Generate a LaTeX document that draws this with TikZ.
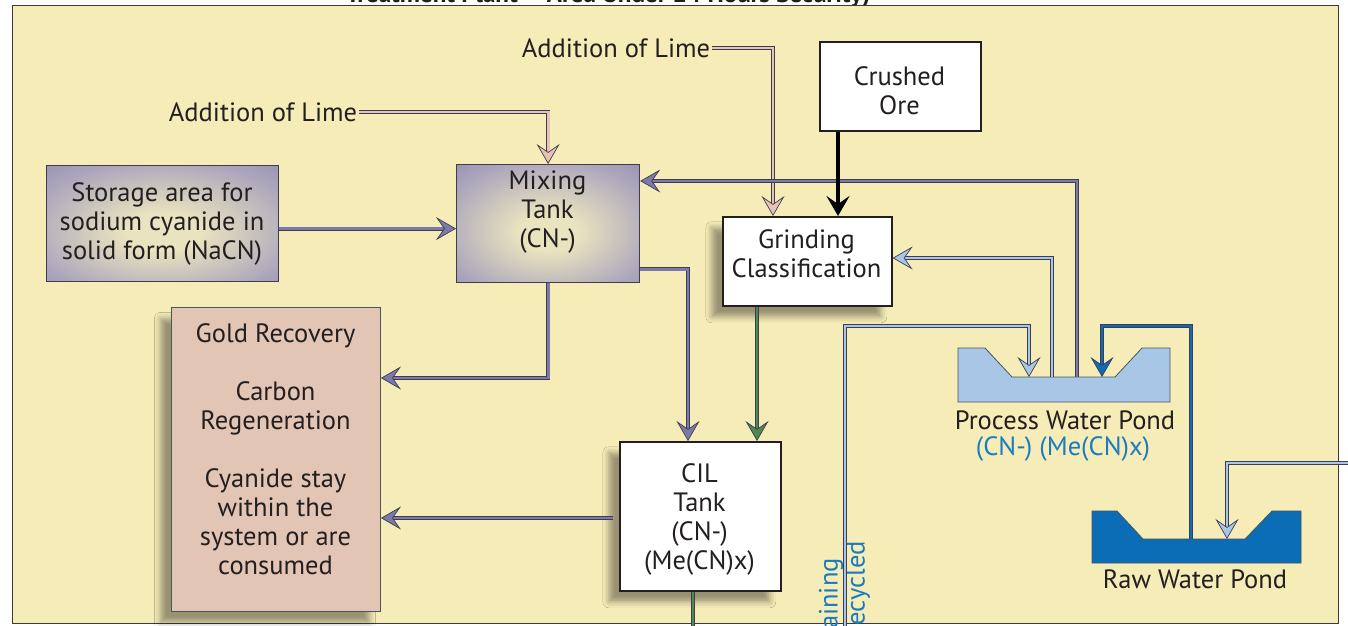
\documentclass[tikz,border=0pt]{standalone}
\usepackage{fontspec}
\setmainfont{PT Sans}
\usetikzlibrary{arrows.meta,shadows,shadows.blur,calc}
\definecolor{bg}{HTML}{F6ECB8}
\definecolor{frm}{HTML}{3A3A3A}
\definecolor{txtc}{HTML}{231F20}
\definecolor{purp}{HTML}{7D79AB}
\definecolor{pedge}{HTML}{3E3C50}
\definecolor{pinkp}{HTML}{E6C3B6}
\definecolor{cream}{HTML}{EAE3BF}
\definecolor{tankmid}{HTML}{ABA5BC}
\definecolor{tankp}{HTML}{77729F}
\definecolor{goldbox}{HTML}{E3C5B5}
\definecolor{lblue}{HTML}{A8C6E6}
\definecolor{dblue}{HTML}{0A6DB6}
\definecolor{greenp}{HTML}{4E8A50}
\definecolor{bluetxt}{HTML}{1B7BC0}
\definecolor{pondedge}{HTML}{4A5560}
\pgfdeclareradialshading{tankshade}{\pgfpoint{0bp}{-4bp}}{color(0bp)=(cream); color(8bp)=(cream); color(30bp)=(tankmid); color(52bp)=(tankp); color(80bp)=(tankp)}
\newcommand\fs{\fontsize{26.5}{29}\selectfont}
\tikzset{
  x=1pt, y=-1pt,
  lbl/.style={text=txtc, font=\fs, align=center, inner sep=2pt},
  sh/.style={blur shadow={shadow xshift=-11pt, shadow yshift=-11pt, shadow blur radius=6pt, shadow opacity=38}},
  wbox/.style={draw=txtc, line width=1.6pt, fill=white, inner sep=0pt, anchor=north west},
  tank/.style={draw=pedge, line width=1.2pt, shading=tankshade, inner sep=0pt, anchor=north west},
  gbox/.style={draw=pondedge, line width=0.9pt, fill=goldbox, inner sep=0pt, anchor=north west},
  pipe/.style={draw=pedge, double=#1, double distance=2.8pt, line width=0.7pt,
    -{Stealth[length=20pt,width=23pt,inset=8pt,fill=#1,line width=0.7pt]}},
}
\begin{document}
\begin{tikzpicture}
\useasboundingbox (0,0) rectangle (1348,625);
\clip (0,0) rectangle (1348,625);
\fill[white] (0,0) rectangle (1348,625);
\node[font=\bfseries\fontsize{25}{28}\selectfont, text=txtc, anchor=base, inner sep=0pt] (title) at (608,2) {Treatment Plant – Area Under 24 Hours Security)};
\draw[fill=bg, draw=frm, line width=0.8pt] (12,5) rectangle (1338,623);

% boxes
\node[tank, minimum width=232pt, minimum height=116pt] (stor) at (46,165) {};
\node[tank, minimum width=183pt, minimum height=118pt] (mix) at (456,164) {};
\node[wbox, minimum width=161pt, minimum height=89pt] (ore) at (819,41) {};
\node[wbox, sh, minimum width=169pt, minimum height=89pt] (grind) at (722,216) {};
\node[gbox, sh, minimum width=209pt, minimum height=304pt] (gold) at (171,307) {};
\node[wbox, sh, minimum width=161pt, minimum height=149pt] (cil) at (619,441) {};

% ponds
\draw[draw=pondedge, line width=0.8pt, fill=lblue] (958,348) -- (985,348) -- (1012,377) -- (1115,377) -- (1142,348) -- (1170,348) -- (1170,402) -- (958,402) -- cycle;
\draw[draw=pondedge, line width=0.8pt, fill=dblue] (1092,511) -- (1117,511) -- (1143,539) -- (1245,539) -- (1272,511) -- (1301,511) -- (1301,563) -- (1092,563) -- cycle;
\coordinate (pwpA) at (1029,377);
\coordinate (pwpB) at (1052,377);
\coordinate (pwpC) at (1077,377);
\coordinate (pwpD) at (1102,377);
\coordinate (rwpA) at (1191,539);
\coordinate (rwpB) at (1227,539);
\coordinate (recyc) at (845,640);
\coordinate (cilout) at (693,640);
\coordinate (rawin) at (1360,463);

% labels
\node[lbl] (lime1) at (616,48) {Addition of Lime};
\node[lbl] (lime2) at (263,112) {Addition of Lime};
\node[lbl] (stortxt) at (162,224) {Storage area for\\sodium cyanide in\\solid form (NaCN)};
\node[lbl] (mixtxt) at (547.5,212) {Mixing\\Tank\\(CN-)};
\node[lbl] (oretxt) at (899.5,91) {Crushed\\Ore};
\node[lbl] (grindtxt) at (806.5,254) {Grinding\\Classification};
\node[lbl] (goldtxt) at (275.5,449) {Gold Recovery\\[29pt]Carbon\\Regeneration\\[29pt]Cyanide stay\\within the\\system or are\\consumed};
\node[lbl] (ciltxt) at (699.5,519) {CIL\\Tank\\(CN-)\\(Me(CN)x)};
\node[lbl] (pwpname) at (1065,420) {Process Water Pond};
\node[lbl, text=bluetxt] (pwpcn) at (1063,449) {(CN-) (Me(CN)x)};
\node[lbl] (rwpname) at (1195,579) {Raw Water Pond};
\node[lbl, text=bluetxt, rotate=90, anchor=east, inner sep=0pt] (rtxt1) at (831,558) {aining};
\node[lbl, text=bluetxt, rotate=90, anchor=east, inner sep=0pt] (rtxt2) at (858,541) {ecycled};

% connectors
\draw[pipe=pinkp] (lime1.east) -| ($(grind.north west)+(51,0)$);
\draw[pipe=pinkp] (lime2.east) -| (mix.north);
\draw[pipe=purp] ($(stor.east)+(0,5)$) -- ($(stor.east -| mix.west)+(0,5)$);
\draw[pipe=purp] (mix.south) |- ($(gold.north east)+(0,71)$);
\draw[pipe=purp] ($(mix.south east)+(0,-14)$) -| ($(cil.north west)+(69,0)$);
\draw[pipe=purp] (pwpC) |- ($(mix.north east)+(0,17)$);
\draw[pipe=lblue] (pwpB) |- ($(grind.north east)+(0,42)$);
\draw[draw=black, line width=4pt, -{Stealth[length=20pt,width=23pt,inset=8pt]}] ($(ore.south west)+(19,0)$) -- ($(grind.north west)+(116,0)$);
\draw[pipe=greenp] ($(grind.south west)+(35,0)$) -- ($(cil.north west)+(138,0)$);
\draw[pipe=purp] ($(cil.north west)+(-6,77)$) -- ($(gold.north east)+(0,211)$);
\draw[pipe=greenp, -] ($(cil.south west)+(74,0)$) -- (cilout);
\draw[pipe=lblue] (recyc) |- ($(pwpA)+(0,-51)$) -- (pwpA);
\draw[pipe=dblue] (rwpA) |- ($(pwpD)+(0,-51)$) -- (pwpD);
\draw[pipe=lblue] (rawin) -| (rwpB);
\end{tikzpicture}
\end{document}
